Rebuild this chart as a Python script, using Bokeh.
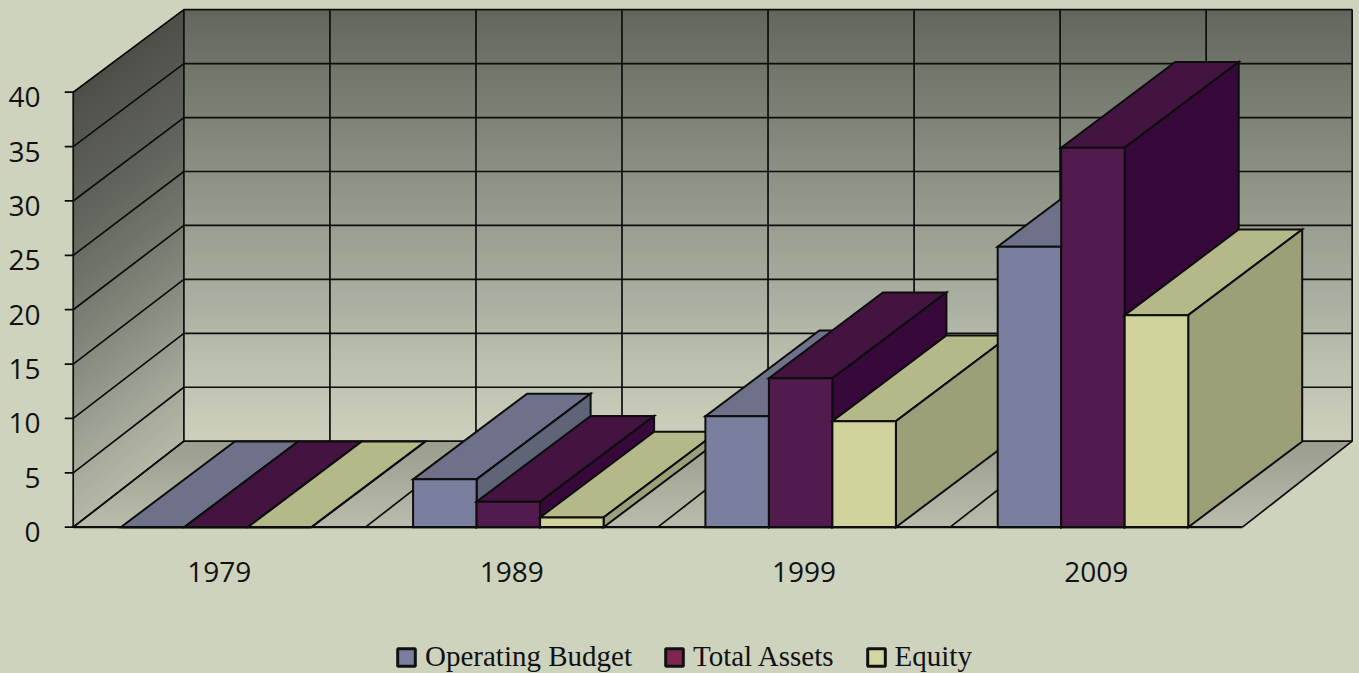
from bokeh.plotting import figure
from bokeh.models import (FixedTicker, LinearAxis, Range1d, Legend, LegendItem,
                          GlobalInlineStyleSheet)
from bokeh.embed import file_html
from bokeh.resources import INLINE

# ---------- data ----------
years = ["1979", "1989", "1999", "2009"]
operating_budget = [0, 4.4, 10.2, 25.8]
total_assets = [0, 2.35, 13.7, 34.9]
equity = [0, 0.9, 9.75, 19.5]
y_ticks = [0, 5, 10, 15, 20, 25, 30, 35, 40]

series_names = ["Operating Budget", "Total Assets", "Equity"]
front_colors = ["#7b7f9e", "#531a4e", "#d0d39b"]
top_colors = ["#6e7189", "#42143f", "#b5b888"]
side_colors = ["#5f6478", "#37083a", "#9c9f78"]
legend_colors = ["#7a7ea0", "#7e2550", "#d5d7a2"]

BG = "#cdd3bd"
INK = "#0d0d0d"

back_stops = [(0, "#cdcfbc"), (6.5, "#bcc1b0"), (13, "#a9afa0"), (20, "#999d8f"),
              (26, "#878d80"), (35, "#6f7469"), (40, "#62655c")]
side_stops = [(0, "#b4b7a5"), (7, "#a0a496"), (12, "#8f9386"), (17, "#7f8378"),
              (22, "#6f7369"), (28, "#61655d"), (40, "#4d4e48")]
floor_stops = [(0, "#b9bcab"), (1, "#9a9d8e")]

# ---------- scales (pixels per data unit) ----------
PX_X, PX_Y = 292.3, 10.875
FRAME_W, FRAME_H = 1295, 673
x0 = -8.7 / PX_X
y0 = -(673 - 526.7) / PX_Y

# oblique projection of the chart box
WALL_DX, WALL_DY = 110.7 / PX_X, 86 / PX_Y
WALL_SHRINK_Y, WALL_SHRINK_X = 0.992, 0.9992
BAR_DX, BAR_DY = 114 / PX_X, 85.7 / PX_Y
BAR_START, BAR_W = 47.6 / PX_X, 63.5 / PX_X
VMAX = 40
NCAT = len(years)


def wall(x, v, d):
    return (x * (1 - (1 - WALL_SHRINK_X) * d) + d * WALL_DX,
            v * (1 - (1 - WALL_SHRINK_Y) * d) + d * WALL_DY)


def hex2rgb(c):
    return [int(c[i:i + 2], 16) for i in (1, 3, 5)]


def ramp(stops, t):
    for (a, ca), (b, cb) in zip(stops, stops[1:]):
        if a <= t <= b:
            f = (t - a) / (b - a)
            r = [round(p + (q - p) * f) for p, q in zip(hex2rgb(ca), hex2rgb(cb))]
            return "#%02x%02x%02x" % tuple(r)
    return stops[-1][1]


p = figure(width=1359, height=673, output_backend="svg", toolbar_location=None,
           x_range=Range1d(x0, x0 + FRAME_W / PX_X),
           y_range=Range1d(y0, y0 + FRAME_H / PX_Y),
           min_border_left=64, min_border_right=0, min_border_top=0, min_border_bottom=0,
           background_fill_color=BG, border_fill_color=BG, outline_line_color=None,
           x_axis_type=None, y_axis_type=None)
p.grid.visible = False
p.stylesheets = [GlobalInlineStyleSheet(css="html,body{background:%s;overflow:hidden;}" % BG)]

# ---------- walls and floor, painted as overlapping gradient bands ----------
n = 80
xs, ys, cols = [], [], []
for i in range(n):
    v = VMAX * i / n
    a = [wall(0, v, 1), wall(NCAT, v, 1), wall(NCAT, VMAX, 1), wall(0, VMAX, 1)]
    xs.append([q[0] for q in a]); ys.append([q[1] for q in a])
    cols.append(ramp(back_stops, v))
for i in range(n):
    v = VMAX * i / n
    a = [wall(0, v, 0), wall(0, v, 1), wall(0, VMAX, 1), wall(0, VMAX, 0)]
    xs.append([q[0] for q in a]); ys.append([q[1] for q in a])
    cols.append(ramp(side_stops, v))
m = 30
for i in range(m):
    d = i / m
    a = [wall(0, 0, d), wall(NCAT, 0, d), wall(NCAT, 0, 1), wall(0, 0, 1)]
    xs.append([q[0] for q in a]); ys.append([q[1] for q in a])
    cols.append(ramp(floor_stops, d))
p.patches(xs, ys, fill_color=cols, line_color=None)

# ---------- grid lines ----------
gx, gy = [], []
for v in y_ticks:
    a, b, c = wall(0, v, 0), wall(0, v, 1), wall(NCAT, v, 1)
    gx.append([a[0], b[0], c[0]]); gy.append([a[1], b[1], c[1]])
for k in range(0, 2 * NCAT + 1):
    x = k / 2
    a, b, c = wall(x, 0, 0), wall(x, 0, 1), wall(x, VMAX, 1)
    gx.append([a[0], b[0], c[0]]); gy.append([a[1], b[1], c[1]])
# front edge of the side wall
a, b = wall(0, 0, 0), wall(0, VMAX, 0)
gx.append([a[0], b[0]]); gy.append([a[1], b[1]])
p.multi_line(gx, gy, line_color=INK, line_width=1.7)

# tick marks left of the side wall
p.multi_line([[x0, 0] for _ in y_ticks], [[v, v] for v in y_ticks], line_color=INK, line_width=1.7)

# ---------- bars, painted back to front ----------
values = [operating_budget, total_assets, equity]
fx, fy, fc = [], [], []
for c in range(NCAT):
    for s in range(len(values)):
        v = values[s][c]
        l = c + BAR_START + s * BAR_W
        r = l + BAR_W
        fx.append([l, r, r + BAR_DX, l + BAR_DX]); fy.append([v, v, v + BAR_DY, v + BAR_DY]); fc.append(top_colors[s])
        fx.append([r, r + BAR_DX, r + BAR_DX, r]); fy.append([0, BAR_DY, v + BAR_DY, v]); fc.append(side_colors[s])
        fx.append([l, r, r, l]); fy.append([0, 0, v, v]); fc.append(front_colors[s])
p.patches(fx, fy, fill_color=fc, line_color=INK, line_width=2, line_join="miter")

# front floor edge on top of the bars
p.multi_line([[0, NCAT]], [[0, 0]], line_color=INK, line_width=2.2)

# ---------- axes ----------
LABEL_SHIFT = 5 / PX_Y
p.extra_y_ranges["labels"] = Range1d(y0 + LABEL_SHIFT, y0 + LABEL_SHIFT + FRAME_H / PX_Y)
labels = LinearAxis(y_range_name="labels", ticker=FixedTicker(ticks=y_ticks), major_tick_out=0,
                    major_tick_in=0, minor_tick_line_color=None, axis_line_color=None,
                    major_tick_line_color=None, major_label_standoff=24,
                    major_label_text_font="Open Sans", major_label_text_font_size="28px",
                    major_label_text_color="#111111")
p.add_layout(labels, "left")

centers = [i + 0.5 for i in range(NCAT)]
xaxis = LinearAxis(ticker=FixedTicker(ticks=centers),
                   major_label_overrides={c: y for c, y in zip(centers, years)},
                   major_tick_line_color=None, minor_tick_line_color=None, axis_line_color=None,
                   major_tick_out=0, major_tick_in=0,
                   major_label_standoff=-112, major_label_text_font="Open Sans",
                   major_label_text_font_size="28px", major_label_text_color="#111111")
p.add_layout(xaxis, "below")

# ---------- legend ----------
items = []
for name, col in zip(series_names, legend_colors):
    r = p.quad(left=[0], right=[0], top=[0], bottom=[0], fill_color=col,
               line_color="#111111", line_width=3)
    items.append(LegendItem(label=name, renderers=[r]))
legend = Legend(items=items, orientation="horizontal", location=(331, 0),
                background_fill_alpha=0, border_line_color=None, padding=0, margin=0,
                spacing=31, label_standoff=8, glyph_width=22, glyph_height=22,
                label_text_font="Liberation Serif", label_text_font_size="29px",
                label_text_color="#111111")
p.add_layout(legend, "center")

open("out.html", "w").write(file_html(p, INLINE))
